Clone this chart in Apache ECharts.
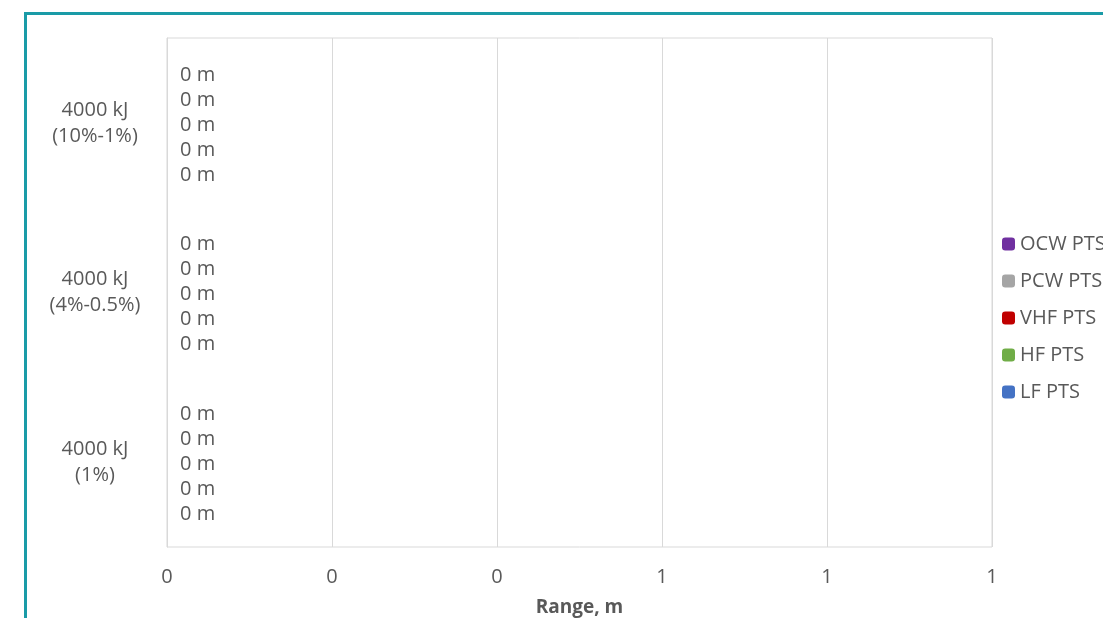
<!DOCTYPE html>
<html><head><meta charset="utf-8">
<script src="https://cdn.jsdelivr.net/npm/echarts@6/dist/echarts.min.js"></script>
<style>html,body{margin:0;padding:0;background:#fff}#c{width:1103px;height:618px}</style>
</head><body><div id="c"></div>
<script>
const categories = ['4000 kJ\n(1%)', '4000 kJ\n(4%-0.5%)', '4000 kJ\n(10%-1%)'];
const seriesNames = ['LF PTS', 'HF PTS', 'VHF PTS', 'PCW PTS', 'OCW PTS'];
const lfPts = [0, 0, 0];
const hfPts = [0, 0, 0];
const vhfPts = [0, 0, 0];
const pcwPts = [0, 0, 0];
const ocwPts = [0, 0, 0];
const colors = ['#4472C4', '#70AD47', '#C00000', '#A5A5A5', '#7030A0'];
const values = [lfPts, hfPts, vhfPts, pcwPts, ocwPts];
const font = '"Open Sans", sans-serif';

const chart = echarts.init(document.getElementById('c'));
chart.setOption({
  animation: false,
  textStyle: { fontFamily: font },
  graphic: [{
    type: 'rect', left: 23, top: 11, shape: { width: 1200, height: 800 },
    style: { fill: 'none', stroke: '#1A9BA7', lineWidth: 3 }, z: 100
  }],
  grid: { left: 167, right: 111, top: 38, bottom: 71, show: true, borderColor: '#d9d9d9', borderWidth: 1,
    containLabel: false, outerBoundsMode: 'none' },
  legend: {
    orient: 'vertical', left: 997, top: 229, itemGap: 17, itemWidth: 13, itemHeight: 13,
    data: seriesNames.slice().reverse(),
    textStyle: { fontSize: 20, lineHeight: 20, color: '#595959', fontFamily: font }
  },
  xAxis: {
    type: 'value', min: 0, max: 1, interval: 0.2,
    name: 'Range, m', nameLocation: 'middle', nameGap: 51,
    nameTextStyle: { fontSize: 19, fontWeight: 'bold', color: '#595959', fontFamily: font },
    axisLine: { show: false }, axisTick: { show: false },
    axisLabel: { fontSize: 20, color: '#595959', margin: 20, formatter: v => String(Math.round(v)) },
    splitLine: { lineStyle: { color: '#d9d9d9' } }
  },
  yAxis: {
    type: 'category', data: categories,
    axisLine: { lineStyle: { color: '#d9d9d9' } }, axisTick: { show: false },
    axisLabel: { fontSize: 20, color: '#595959', align: 'center', margin: 72, lineHeight: 26 }
  },
  series: seriesNames.map((n, i) => ({
    name: n, type: 'bar', data: values[i], barWidth: 25, barGap: '0%',
    itemStyle: { color: colors[i] },
    label: { show: true, position: 'right', distance: 13, fontSize: 20, color: '#595959',
      offset: [0, 2], formatter: p => p.value + ' m' }
  }))
});
</script></body></html>
